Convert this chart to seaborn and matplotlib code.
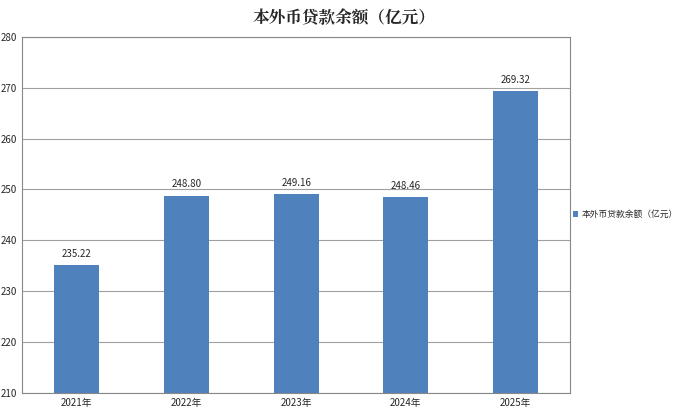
import matplotlib
matplotlib.use("Agg")
import matplotlib.pyplot as plt
import seaborn as sns
import pandas as pd

years = ["2021年", "2022年", "2023年", "2024年", "2025年"]
balances = [235.22, 248.80, 249.16, 248.46, 269.32]
series_name = "本外币贷款余额（亿元）"

sns.set_style("white")
plt.rcParams['font.family'] = ['Noto Sans CJK SC', 'DejaVu Sans']

df = pd.DataFrame({"year": years, "value": balances, "series": series_name})

fig = plt.figure(figsize=(6.88, 4.18), dpi=100)
ax = fig.add_axes([0.032, 0.06, 0.797, 0.852])
sns.barplot(data=df, x="year", y="value", hue="series", palette=["#4F81BD"],
            width=0.41, ax=ax, saturation=1, edgecolor="none")

ax.set_ylim(210, 280)
ax.set_yticks(range(210, 281, 10))
ax.yaxis.grid(True, color="#A0A0A0", linewidth=0.8)
ax.set_axisbelow(True)
for s in ax.spines.values():
    s.set_color("#888888")
    s.set_linewidth(0.8)
ax.tick_params(labelsize=7, length=0)
ax.set_xlabel("")
ax.set_ylabel("")

for i, v in enumerate(balances):
    ax.text(i, v + 1.2, f"{v:.2f}", ha="center", va="bottom", fontsize=7)

ax.legend(loc="center left", bbox_to_anchor=(0.99, 0.5), frameon=False,
          fontsize=6.3, handlelength=0.6, handleheight=0.6, handletextpad=0.4)

fig.text(0.5, 0.955, "本外币贷款余额（亿元）", ha="center", va="center",
         fontsize=12, fontweight="bold", family=['Noto Serif CJK SC', 'Noto Sans CJK SC'])

fig.savefig("out.png", dpi=100)
